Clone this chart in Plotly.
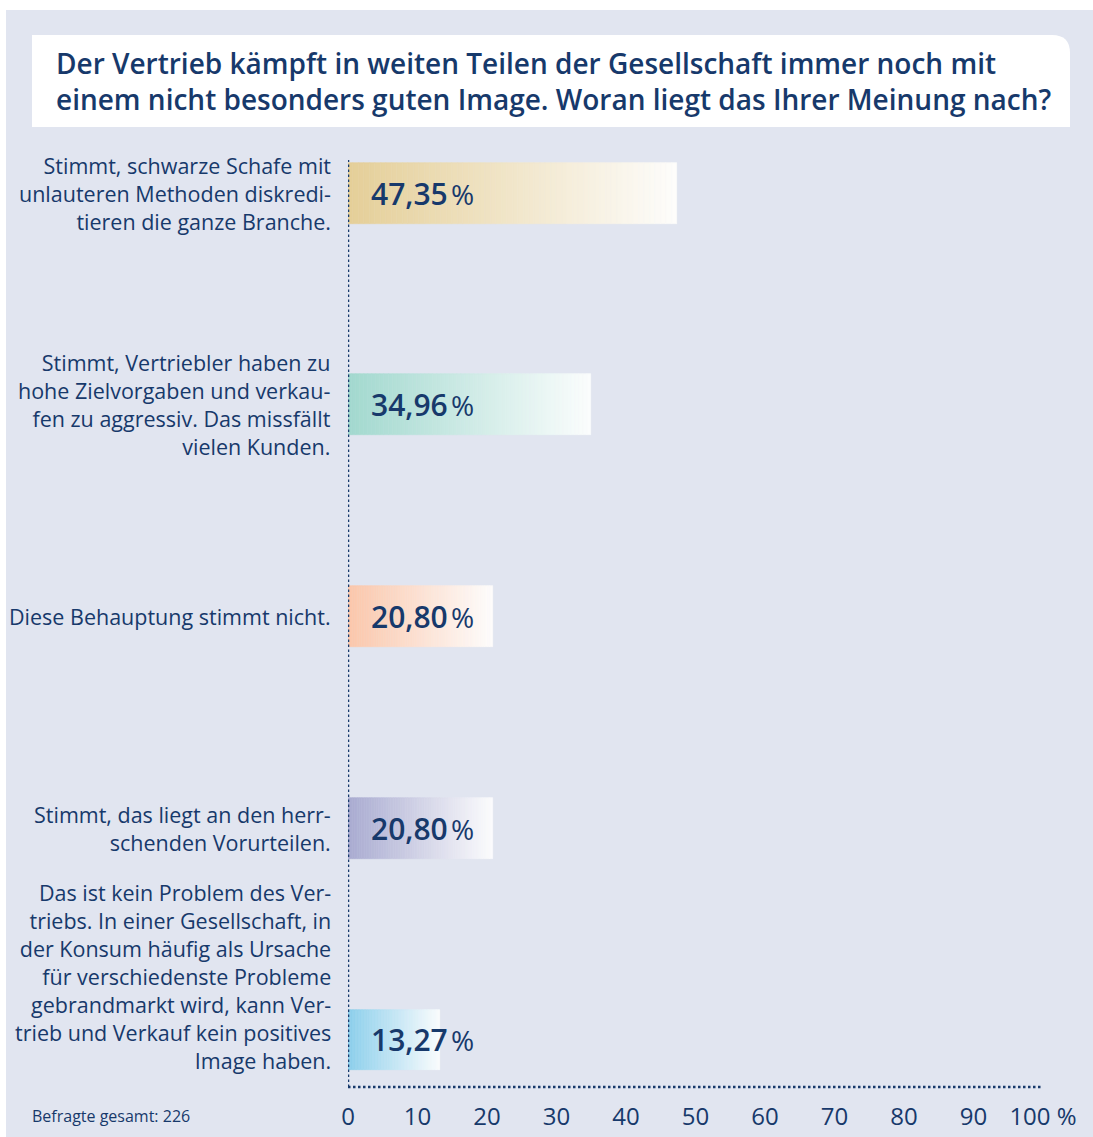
import plotly.graph_objects as go

# ---------------- data ----------------
categories = [
    "Stimmt, schwarze Schafe mit<br>unlauteren Methoden diskredi-<br>tieren die ganze Branche.",
    "Stimmt, Vertriebler haben zu<br>hohe Zielvorgaben und verkau-<br>fen zu aggressiv. Das missfällt<br>vielen Kunden.",
    "Diese Behauptung stimmt nicht.",
    "Stimmt, das liegt an den herr-<br>schenden Vorurteilen.",
    "Das ist kein Problem des Ver-<br>triebs. In einer Gesellschaft, in<br>der Konsum häufig als Ursache<br>für verschiedenste Probleme<br>gebrandmarkt wird, kann Ver-<br>trieb und Verkauf kein positives<br>Image haben.",
]
values = [47.35, 34.96, 20.80, 20.80, 13.27]
value_labels = ["47,35", "34,96", "20,80", "20,80", "13,27"]
bar_colors = ["#e5cf98", "#a2d9cf", "#fcc7ab", "#a9abd1", "#8bcfec"]
tick_vals = [0, 10, 20, 30, 40, 50, 60, 70, 80, 90, 100]
tick_text = ["0", "10", "20", "30", "40", "50", "60", "70", "80", "90", "100 %"]
title_text = ("Der Vertrieb kämpft in weiten Teilen der Gesellschaft immer noch mit<br>"
              "einem nicht besonders guten Image. Woran liegt das Ihrer Meinung nach?")
footnote = "Befragte gesamt: 226"

# ---------------- layout geometry ----------------
W, H = 1093, 1137
ML, MR, MT, MB = 348, 50, 160, 50
PW, PH = W - ML - MR, H - MT - MB
NAVY = "#17396b"
BG = "#e1e5f0"
FONT = "Open Sans"


def px(x):
    return (x - ML) / PW


def py(y):
    return (H - MB - y) / PH


def hex2rgb(h):
    h = h.lstrip("#")
    return [int(h[i:i + 2], 16) for i in (0, 2, 4)]


def mix(c, t):
    r, g, b = hex2rgb(c)
    return "rgb(%d,%d,%d)" % (r + (255 - r) * t, g + (255 - g) * t, b + (255 - b) * t)


ypos = list(range(len(values)))
fig = go.Figure()

# gradient bars built from segments
N = 60
for k in range(N):
    t = (k + 0.5) / N
    cols = [mix(c, 0.97 * t) for c in bar_colors]
    fig.add_trace(go.Bar(
        y=ypos,
        x=[v / N for v in values],
        base=[v * k / N for v in values],
        orientation="h",
        width=0.288,
        marker=dict(color=cols, line=dict(width=0.6, color=cols)),
        hoverinfo="skip",
        showlegend=False,
    ))

# value labels inside bars
for i, (v, lab) in enumerate(zip(values, value_labels)):
    fig.add_annotation(
        x=3.0, y=i, xref="x", yref="y", xanchor="left", yanchor="middle",
        text=lab + "<span style='font-size:12px'>&nbsp;</span><span style='font-weight:400;font-size:28px'>%</span>",
        showarrow=False,
        font=dict(family=FONT, size=30, color=NAVY, weight=600),
    )

# category labels
label_y = [0, 1, 2, 3, 3.70]
for cat, yy in zip(categories, label_y):
    fig.add_annotation(
        x=px(333), y=yy, xref="paper", yref="y", xanchor="right", yanchor="middle",
        align="right", text=cat, showarrow=False,
        font=dict(family=FONT, size=21.5, color=NAVY),
    )

shapes = [
    # panel background
    dict(type="rect", xref="paper", yref="paper", x0=px(6), x1=px(W + 2), y0=py(10), y1=py(H + 2),
         fillcolor=BG, line=dict(width=0), layer="below"),
    # title box with rounded top-right corner
    dict(type="path", xref="paper", yref="paper",
         path=("M %f,%f L %f,%f Q %f,%f %f,%f L %f,%f L %f,%f Z" % (
             px(32), py(35), px(1052), py(35), px(1070), py(35), px(1070), py(53),
             px(1070), py(127), px(32), py(127))),
         fillcolor="white", line=dict(width=0), layer="below"),
    # dotted axes
    dict(type="line", xref="x", yref="paper", x0=0, x1=0, y0=0, y1=1,
         line=dict(color=NAVY, width=2.5, dash="2.5px,2.5px")),
    dict(type="line", xref="x", yref="paper", x0=0, x1=100, y0=0, y1=0,
         line=dict(color=NAVY, width=2.5, dash="2.5px,2.5px")),
]

fig.add_annotation(
    x=px(54), y=py(81), xref="paper", yref="paper", xanchor="left", yanchor="middle",
    align="left", text=title_text, showarrow=False,
    font=dict(family=FONT, size=28, color=NAVY, weight=600),
)
fig.add_annotation(
    x=px(30), y=py(1116), xref="paper", yref="paper", xanchor="left", yanchor="middle",
    text=footnote, showarrow=False,
    font=dict(family=FONT, size=16, color=NAVY),
)

fig.update_layout(
    width=W, height=H,
    margin=dict(l=ML, r=MR, t=MT, b=MB, pad=0, autoexpand=False),
    paper_bgcolor="white", plot_bgcolor="rgba(0,0,0,0)",
    barmode="overlay", bargap=0,
    shapes=shapes,
    showlegend=False,
    xaxis=dict(range=[0, 100], tickvals=tick_vals, ticktext=tick_text,
               showgrid=False, zeroline=False, showline=False, ticks="",
               tickfont=dict(family=FONT, size=24, color=NAVY), ticklabelstandoff=13,
               automargin=False, fixedrange=True),
    yaxis=dict(range=[4.222, -0.156], showgrid=False, zeroline=False, showline=False,
               showticklabels=False, ticks="", automargin=False, fixedrange=True),
)

fig.write_html("out.html", config={"displayModeBar": False},
               post_script="document.body.style.margin='0px';document.body.style.overflow='hidden';")
